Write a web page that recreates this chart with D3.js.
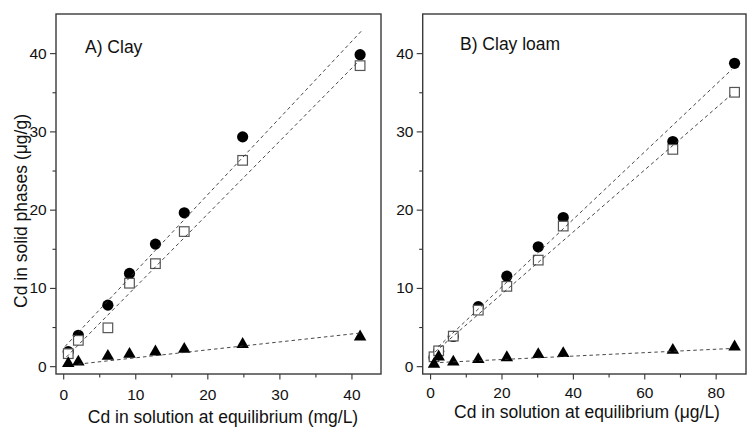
<!DOCTYPE html>
<html>
<head>
<meta charset="utf-8">
<script src="https://cdn.jsdelivr.net/npm/d3@7"></script>
<style>
  body { margin: 0; background: #fff; }
  svg text { font-family: "Liberation Sans", Arial, sans-serif; fill: #111; }
</style>
</head>
<body>
<div id="chart"></div>
<script>
// ---- data ----
// A) Clay, x in mg/L
var clayConc   = [0.7, 2.1, 6.2, 9.2, 12.8, 16.8, 24.9, 41.2];
var clayTotal  = [1.85, 3.95, 7.8, 11.85, 15.6, 19.6, 29.3, 39.8];   // filled circles
var claySorbed = [1.6, 3.3, 4.9, 10.6, 13.1, 17.2, 26.3, 38.4];     // open squares
var clayOther  = [0.35, 0.55, 1.28, 1.53, 1.83, 2.17, 2.8, 3.75];   // triangles
// fitted lines: slope, intercept, x range (circles, squares, triangles)
var claySlope     = [0.98, 0.932, 0.1015];
var clayIntercept = [2.27, 0.76, 0.05];
var clayRange     = [[0.25, 41.5], [0.45, 40.9], [2.1, 41.5]];

// B) Clay loam, x in ug/L
var loamConc   = [1.1, 2.4, 6.5, 13.5, 21.5, 30.3, 37.3, 68.0, 85.3];
var loamTotal  = [1.1, 1.9, 3.8, 7.6, 11.5, 15.25, 19.0, 28.7, 38.7];
var loamSorbed = [1.2, 1.96, 3.84, 7.16, 10.2, 13.55, 17.9, 27.7, 35.0];
var loamOther  = [0.26, 1.2, 0.55, 0.86, 1.1, 1.5, 1.62, 2.05, 2.47];
var loamSlope     = [0.431, 0.396, 0.0219];
var loamIntercept = [1.48, 1.27, 0.41];
var loamRange     = [[2.3, 84.5], [1.4, 84.2], [2.8, 84.5]];

var yMajor = [0, 10, 20, 30, 40];
var yMinor = [5, 15, 25, 35];
var clayXMajor = [0, 10, 20, 30, 40];
var clayXMinor = [5, 15, 25, 35];
var loamXMajor = [0, 20, 40, 60, 80];
var loamXMinor = [10, 30, 50, 70];

var width = 747, height = 427;
var svg = d3.select("#chart").append("svg")
    .attr("width", width)
    .attr("height", height);

var y = d3.scaleLinear().domain([-1.0, 45.0]).range([374, 14]);

var panels = [
  { title: "A) Clay", titleX: 85, titleY: 53,
    left: 56, right: 381, xDomain: [-1.0, 44.1],
    conc: clayConc, total: clayTotal, sorbed: claySorbed, other: clayOther,
    slope: claySlope, intercept: clayIntercept, range: clayRange,
    xMajor: clayXMajor, xMinor: clayXMinor, xPad: 9,
    xLabel: "Cd in solution at equilibrium (mg/L)", xLabelX: 223, xLabelY: 423,
    yLabel: true },
  { title: "B) Clay loam", titleX: 460, titleY: 50,
    left: 422.7, right: 746, xDomain: [-2.07, 88.5],
    conc: loamConc, total: loamTotal, sorbed: loamSorbed, other: loamOther,
    slope: loamSlope, intercept: loamIntercept, range: loamRange,
    xMajor: loamXMajor, xMinor: loamXMinor, xPad: 7.5,
    xLabel: "Cd in solution at equilibrium (\u03BCg/L)", xLabelX: 587, xLabelY: 418,
    yLabel: false }
];

panels.forEach(function (p) {
  var x = d3.scaleLinear().domain(p.xDomain).range([p.left, p.right]);
  var g = svg.append("g");

  // minor ticks
  g.append("g")
    .attr("transform", "translate(0," + y.range()[0] + ")")
    .call(d3.axisBottom(x).tickValues(p.xMinor).tickSize(3.5).tickSizeOuter(0).tickFormat(""))
    .call(function (a) { a.select(".domain").remove(); });
  g.append("g")
    .attr("transform", "translate(" + p.left + ",0)")
    .call(d3.axisLeft(y).tickValues(yMinor).tickSize(3.5).tickSizeOuter(0).tickFormat(""))
    .call(function (a) { a.select(".domain").remove(); });

  // major ticks
  var xa = g.append("g")
    .attr("transform", "translate(0," + y.range()[0] + ")")
    .call(d3.axisBottom(x).tickValues(p.xMajor).tickSize(5.5).tickPadding(p.xPad).tickSizeOuter(0));
  var ya = g.append("g")
    .attr("transform", "translate(" + p.left + ",0)")
    .call(d3.axisLeft(y).tickValues(yMajor).tickSize(6).tickPadding(3.3).tickSizeOuter(0));
  [xa, ya].forEach(function (a) {
    a.select(".domain").remove();
    a.selectAll("line").attr("stroke", "#333").attr("stroke-width", 1.1);
    a.selectAll("text").style("font-size", "15.5px").attr("fill", "#111");
  });
  g.selectAll(".tick line").attr("stroke", "#333").attr("stroke-width", 1.1);

  // frame
  g.append("rect")
    .attr("x", p.left).attr("y", y.range()[1])
    .attr("width", p.right - p.left).attr("height", y.range()[0] - y.range()[1])
    .attr("fill", "none").attr("stroke", "#3a3a3a").attr("stroke-width", 1.4);

  // markers
  var pts = p.conc.map(function (c, i) {
    return { x: c, total: p.total[i], sorbed: p.sorbed[i], other: p.other[i] };
  });
  g.selectAll(".tot").data(pts).enter().append("circle")
    .attr("cx", function (d) { return x(d.x); })
    .attr("cy", function (d) { return y(d.total); })
    .attr("r", 5.6).attr("fill", "#000");
  g.selectAll(".sorb").data(pts).enter().append("rect")
    .attr("x", function (d) { return x(d.x) - 4.8; })
    .attr("y", function (d) { return y(d.sorbed) - 4.8; })
    .attr("width", 9.6).attr("height", 9.6)
    .attr("fill", "#fff").attr("stroke", "#555").attr("stroke-width", 1.2);
  var tri = d3.symbol().type(d3.symbolTriangle).size(68);
  g.selectAll(".oth").data(pts).enter().append("path")
    .attr("d", tri)
    .attr("transform", function (d) { return "translate(" + x(d.x) + "," + y(d.other) + ")"; })
    .attr("fill", "#000");

  // fitted dashed lines
  var line = d3.line()
    .x(function (d) { return x(d[0]); })
    .y(function (d) { return y(d[1]); });
  p.slope.forEach(function (s, i) {
    var r = p.range[i];
    var seg = r.map(function (v) { return [v, s * v + p.intercept[i]]; });
    g.append("path")
      .attr("d", line(seg))
      .attr("fill", "none")
      .attr("stroke", "#333")
      .attr("stroke-width", 0.9)
      .attr("stroke-dasharray", "3.5,3");
  });

  // texts
  g.append("text").attr("x", p.titleX).attr("y", p.titleY)
    .style("font-size", "17.5px").text(p.title);
  g.append("text").attr("x", p.xLabelX).attr("y", p.xLabelY)
    .attr("text-anchor", "middle").style("font-size", "17.5px").text(p.xLabel);
  if (p.yLabel) {
    g.append("text")
      .attr("transform", "translate(27,211) rotate(-90)")
      .attr("text-anchor", "middle").style("font-size", "17.5px")
      .text("Cd in solid phases (\u03BCg/g)");
  }
});
</script>
</body>
</html>
